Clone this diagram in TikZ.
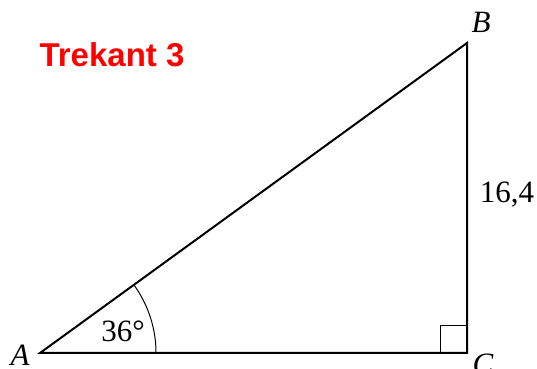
\documentclass[tikz,border=0pt]{standalone}
\usepackage{fontspec}
\setmainfont{Liberation Serif}
\newfontfamily\titlefont{Liberation Sans}
\usetikzlibrary{positioning}
\definecolor{titleRed}{RGB}{255,0,0}

\begin{document}
\begin{tikzpicture}[x=0.5pt, y=0.5pt,
edgeline/.style={line width=1pt, color=black},
thinline/.style={line width=0.5pt, color=black},
vlabel/.style={font=\fontsize{15.5}{18}\selectfont\itshape, inner sep=0pt},
numlabel/.style={font=\fontsize{15.5}{18}\selectfont, inner sep=0pt},
title/.style={font=\titlefont\bfseries\fontsize{16.5}{20}\selectfont, text=titleRed, inner sep=0pt}]

\useasboundingbox (0,0) rectangle (537,369);

\coordinate (A) at (40,16);
\coordinate (C) at (467,16);
\coordinate (B) at (467,326);

\node[title] (heading) at (112,314) {Trekant 3};

\node[vlabel] (labA) at (20,14) {A};
\node[vlabel] (labB) at (481,347) {B};
\node[vlabel] (labC) at (483,5) {C};
\node[numlabel] (side) at (507,174) {16,4};
\node[numlabel] (angle) at (123,38) {36\textdegree};

\draw[edgeline] (A) -- (C) -- (B) -- cycle;
\draw[thinline] ([xshift=58pt]A) arc[start angle=0, end angle=36, radius=58pt];
\draw[thinline] ([xshift=-13.5pt]C) |- ([yshift=13.5pt]C);
\end{tikzpicture}
\end{document}
